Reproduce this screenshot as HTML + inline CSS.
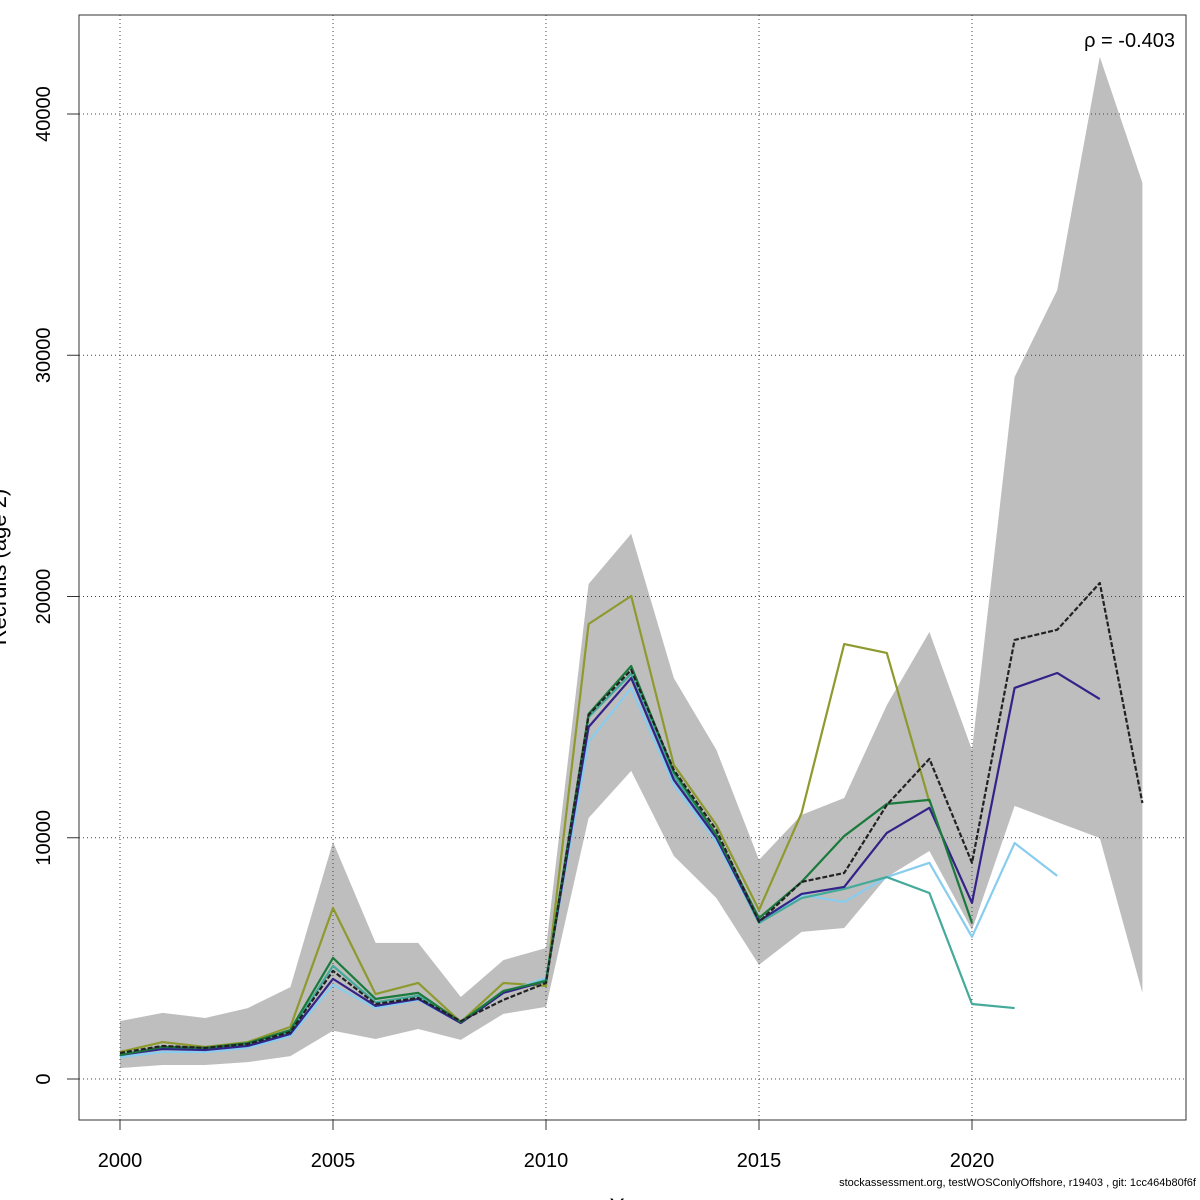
<!DOCTYPE html>
<html><head><meta charset="utf-8">
<style>
html,body{margin:0;padding:0;background:#fff;}
svg{display:block;font-family:"Liberation Sans",sans-serif;}
</style></head>
<body>
<svg id="chart" width="1200" height="1200" viewBox="0 0 1200 1200">
<g id="band"></g>
<g id="grid"></g>
<g id="lines"></g>
<rect x="79" y="15" width="1107" height="1105" fill="none" stroke="#333" stroke-width="1"/>
<g id="axes"></g>
<text x="1175" y="47" font-size="20" text-anchor="end">ρ = -0.403</text>
<text x="1196" y="1186" font-size="11" text-anchor="end">stockassessment.org, testWOSConlyOffshore, r19403 , git: 1cc464b80f6f</text>
<text x="632" y="1214" font-size="22" text-anchor="middle">Year</text>
<text transform="translate(6,567) rotate(-90)" font-size="22" text-anchor="middle">Recruits (age 2)</text>
</svg>
<script>
const years = [2000,2001,2002,2003,2004,2005,2006,2007,2008,2009,2010,2011,2012,2013,2014,2015,2016,2017,2018,2019,2020,2021,2022,2023,2024];
const upper = [2400,2740,2530,2940,3810,9830,5640,5640,3400,4930,5430,20520,22600,16620,13640,9080,10950,11650,15500,18530,13640,29100,32700,42370,37150];
const lower = [450,580,580,700,950,2000,1660,2070,1620,2700,2990,10820,12770,9250,7500,4730,6100,6260,8370,9450,6180,11320,10650,9990,3570];
const baseRun = [1080,1370,1290,1450,1950,4480,3110,3360,2400,3280,3980,15090,16960,12810,10320,6510,8170,8540,11360,13270,8960,18200,18620,20560,11440];
const peel1 = [1000,1240,1200,1370,1870,4150,3030,3320,2320,3570,4060,14590,16620,12400,9990,6550,7670,7960,10200,11240,7300,16210,16830,15750];
const peel2 = [910,1120,1120,1290,1780,3900,2940,3280,2320,3570,4190,13970,16210,12190,9830,6470,7630,7340,8370,8960,5890,9780,8420];
const peel3 = [980,1280,1230,1420,1950,4690,3180,3450,2340,3600,4100,15000,16800,12550,10050,6470,7500,7880,8370,7710,3110,2940];
const peel4 = [1000,1330,1290,1490,2030,5020,3320,3570,2360,3650,4060,15130,17120,12730,10120,6670,8170,10070,11400,11570,6470];
const peel5 = [1120,1530,1330,1530,2160,7090,3520,3980,2360,3980,3860,18860,20020,13020,10530,7000,11030,18030,17660,11480];
const xTicks = [2000,2005,2010,2015,2020];
const yTicks = [0,10000,20000,30000,40000];

const NS='http://www.w3.org/2000/svg';
function X(yr){return 120+(yr-2000)*(972-120)/20;}
function Y(v){return 1079-v*(1079-114)/40000;}
function mk(tag,attrs,parent){const e=document.createElementNS(NS,tag);for(const k in attrs)e.setAttribute(k,attrs[k]);parent.appendChild(e);return e;}

const band=document.getElementById('band');
let pts=years.map((y,i)=>X(y)+','+Y(upper[i]));
for(let i=years.length-1;i>=0;i--)pts.push(X(years[i])+','+Y(lower[i]));
const poly=mk('polygon',{points:pts.join(' '),fill:'#bebebe',stroke:'none'},band);



const grid=document.getElementById('grid');
xTicks.forEach(t=>{const l=mk('line',{x1:X(t),x2:X(t),y1:15,y2:1120,stroke:'#444','stroke-width':1,'stroke-dasharray':'1,3'},grid);

});
yTicks.forEach(t=>{const l=mk('line',{x1:79,x2:1186,y1:Y(t),y2:Y(t),stroke:'#444','stroke-width':1,'stroke-dasharray':'1,3'},grid);

});

const lines=document.getElementById('lines');
function drawSeries(vals,color,name,dash){
  const p=vals.map((v,i)=>X(years[i])+','+Y(v)).join(' ');
  const e=mk('polyline',{points:p,fill:'none',stroke:color,'stroke-width':2.2,'stroke-linejoin':'round'},lines);
  if(dash)e.setAttribute('stroke-dasharray',dash);
  
  
}
drawSeries(peel5,'#8e9a2e','peel-5-line');
drawSeries(peel2,'#88ccee','peel-2-line');
drawSeries(peel3,'#44aa99','peel-3-line');
drawSeries(peel1,'#332288','peel-1-line');
drawSeries(peel4,'#1a7a3c','peel-4-line');
drawSeries(baseRun,'#222','base-run-line','5,2');

const axes=document.getElementById('axes');
xTicks.forEach(t=>{const l=mk('line',{x1:X(t),x2:X(t),y1:1120,y2:1130,stroke:'#333'},axes);


const tx=mk('text',{x:X(t),y:1167,'font-size':20,'text-anchor':'middle'},axes);tx.textContent=t;

});
yTicks.forEach(t=>{const l=mk('line',{x1:67,x2:79,y1:Y(t),y2:Y(t),stroke:'#333'},axes);


const tx=mk('text',{transform:'translate(50,'+Y(t)+') rotate(-90)','font-size':20,'text-anchor':'middle'},axes);tx.textContent=t;

});
</script>
</body></html>
